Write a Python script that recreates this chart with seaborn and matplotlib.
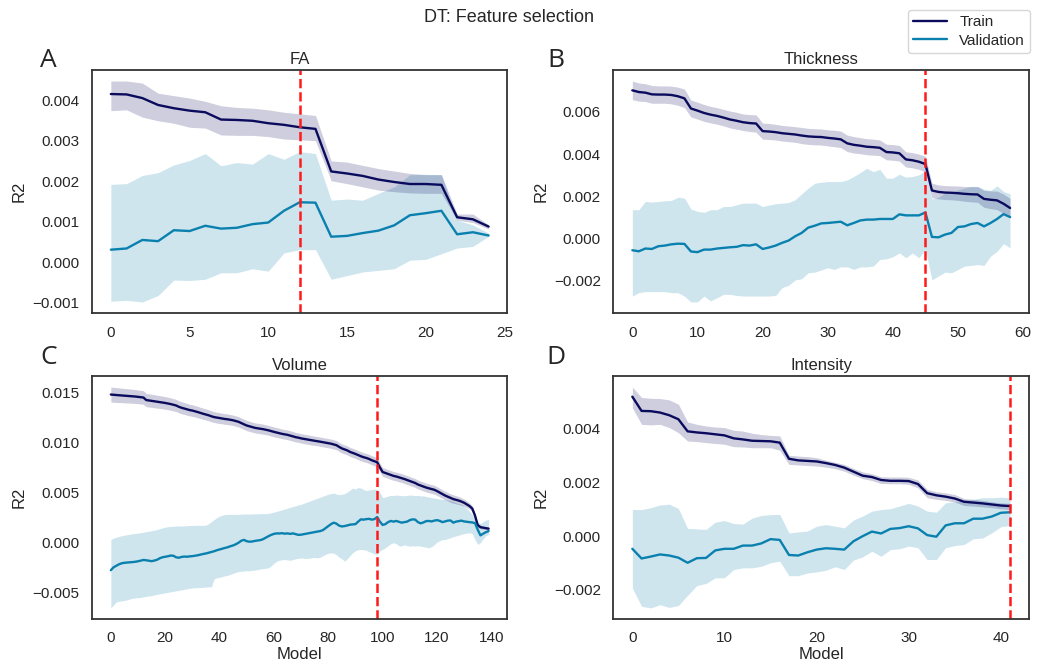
import numpy as np
import pandas as pd
import matplotlib
matplotlib.use("Agg")
import matplotlib.pyplot as plt
from matplotlib.lines import Line2D
import seaborn as sns

# R2 values below are in units of 1e-3
# ---------------- FA ----------------
fa_train = [4.15, 4.14, 4.05, 3.88, 3.80, 3.74, 3.70, 3.52, 3.51, 3.49, 3.43, 3.39, 3.33,
            3.29, 2.24, 2.19, 2.13, 2.04, 1.98, 1.93, 1.93, 1.91, 1.11, 1.06, 0.88]
fa_train_hi = [4.47, 4.47, 4.42, 4.17, 4.11, 4.05, 3.97, 3.86, 3.82, 3.80, 3.76, 3.70, 3.66,
               3.62, 2.50, 2.47, 2.39, 2.31, 2.25, 2.19, 2.16, 2.16, 1.19, 1.19, 0.92]
fa_train_lo = [3.74, 3.76, 3.58, 3.49, 3.43, 3.33, 3.31, 3.14, 3.13, 3.13, 3.10, 3.04, 3.02,
               3.00, 2.01, 1.94, 1.86, 1.78, 1.74, 1.71, 1.70, 1.70, 1.04, 0.98, 0.82]
fa_val = [0.31, 0.34, 0.55, 0.52, 0.79, 0.77, 0.90, 0.83, 0.85, 0.94, 0.98, 1.27, 1.48,
          1.47, 0.63, 0.65, 0.72, 0.78, 0.91, 1.16, 1.21, 1.27, 0.69, 0.74, 0.66]
fa_val_hi = [1.92, 1.94, 2.14, 2.21, 2.40, 2.51, 2.68, 2.38, 2.46, 2.42, 2.68, 2.54, 2.73,
             2.68, 1.53, 1.56, 1.53, 1.70, 1.86, 2.16, 2.17, 2.16, 1.04, 0.92, 0.72]
fa_val_lo = [-0.96, -0.94, -0.98, -0.82, -0.44, -0.45, -0.42, -0.26, -0.26, -0.16, -0.22, 0.23, 0.31,
             0.31, -0.42, -0.33, -0.24, -0.20, -0.16, 0.05, 0.07, 0.21, 0.35, 0.39, 0.64]

# ---------------- Thickness ----------------
th_train = [7.02, 6.94, 6.91, 6.83, 6.82, 6.82, 6.80, 6.74, 6.64, 6.16,
            6.06, 5.95, 5.87, 5.81, 5.73, 5.64, 5.58, 5.51, 5.47, 5.45,
            5.09, 5.07, 5.04, 4.99, 4.96, 4.93, 4.88, 4.84, 4.82, 4.81,
            4.77, 4.74, 4.70, 4.51, 4.44, 4.40, 4.35, 4.33, 4.30, 4.10,
            4.08, 4.04, 3.75, 3.71, 3.64, 3.53, 2.28, 2.21, 2.18, 2.17,
            2.15, 2.12, 2.10, 2.09, 1.88, 1.84, 1.81, 1.65, 1.45]
th_train_sd = [0.44, 0.43, 0.42, 0.42, 0.41, 0.41, 0.42, 0.43, 0.44,
               0.40, 0.40, 0.40, 0.39, 0.39, 0.39, 0.40, 0.40, 0.39, 0.40, 0.41,
               0.38, 0.38, 0.37, 0.37, 0.37, 0.37, 0.38, 0.38, 0.38, 0.38, 0.38, 0.39, 0.39,
               0.39, 0.39, 0.38, 0.38, 0.38, 0.37, 0.37, 0.37, 0.37, 0.36, 0.36, 0.36, 0.37,
               0.34, 0.33, 0.33, 0.33, 0.34, 0.35, 0.36, 0.37, 0.40, 0.42, 0.44, 0.46, 0.45]
th_val = [-0.55, -0.60, -0.47, -0.49, -0.36, -0.33, -0.27, -0.24, -0.25, -0.61,
          -0.64, -0.52, -0.52, -0.47, -0.44, -0.41, -0.39, -0.31, -0.33, -0.27,
          -0.49, -0.42, -0.33, -0.20, -0.09, 0.11, 0.27, 0.52, 0.61, 0.72,
          0.74, 0.77, 0.80, 0.63, 0.74, 0.86, 0.90, 0.90, 0.93, 0.93,
          0.93, 1.15, 1.10, 1.10, 1.10, 1.24, 0.08, 0.06, 0.19, 0.27,
          0.55, 0.58, 0.69, 0.74, 0.58, 0.74, 0.93, 1.16, 1.02]
th_val_hi = [1.37, 1.37, 1.76, 1.73, 1.76, 1.79, 1.81, 1.96, 1.92, 1.40,
             1.29, 1.24, 1.37, 1.37, 1.52, 1.52, 1.60, 1.68, 1.68, 1.68,
             1.52, 1.59, 1.65, 1.68, 1.71, 1.84, 2.12, 2.39, 2.62, 2.67,
             2.70, 2.70, 2.70, 2.78, 2.94, 3.13, 3.33, 3.17, 3.28, 2.86,
             2.86, 3.05, 2.91, 2.94, 3.02, 3.22, 1.87, 1.96, 2.15, 2.18,
             2.31, 2.39, 2.47, 2.47, 2.34, 2.28, 2.50, 2.23, 2.12]
th_val_lo = [-2.72, -2.56, -2.51, -2.51, -2.51, -2.51, -2.56, -2.56, -2.72, -3.00,
             -3.00, -2.72, -2.95, -2.80, -2.64, -2.64, -2.69, -2.72, -2.72, -2.72,
             -2.72, -2.72, -2.69, -2.32, -2.21, -1.96, -1.90, -1.62, -1.59, -1.49,
             -1.38, -1.46, -1.34, -1.34, -1.46, -1.34, -1.34, -1.30, -0.99, -0.96,
             -0.86, -0.68, -0.91, -0.68, -0.91, -0.52, -1.96, -1.77, -1.59, -1.62,
             -1.46, -1.30, -1.27, -1.23, -1.27, -0.83, -0.60, -0.24, -0.44]

# ---------------- Volume ----------------
vo_train = [14.77, 14.74, 14.72, 14.70, 14.68, 14.66, 14.64, 14.62, 14.60, 14.57, 14.54, 14.51, 14.47,
            14.22, 14.18, 14.15, 14.10, 14.06, 14.02, 13.98, 13.93,
            13.88, 13.82, 13.75, 13.68, 13.55, 13.45, 13.38, 13.30, 13.22, 13.17,
            13.10, 13.02, 12.93, 12.85, 12.78, 12.70, 12.60, 12.52, 12.47, 12.42,
            12.38, 12.33, 12.30, 12.25, 12.20, 12.12, 12.05, 11.92, 11.80, 11.68,
            11.60, 11.52, 11.45, 11.40, 11.36, 11.32, 11.26, 11.20, 11.12, 11.05,
            10.98, 10.92, 10.85, 10.80, 10.75, 10.68, 10.60, 10.52, 10.47, 10.40,
            10.35, 10.30, 10.25, 10.20, 10.16, 10.12, 10.07, 10.02, 9.97, 9.92,
            9.87, 9.80, 9.72, 9.55, 9.40, 9.30, 9.20, 9.05, 8.95, 8.85,
            8.73, 8.62, 8.52, 8.45, 8.35, 8.22, 8.12, 8.02,
            7.50, 7.05, 6.95, 6.85, 6.75, 6.66, 6.60, 6.52, 6.45, 6.35, 6.25, 6.15,
            6.05, 5.95, 5.80, 5.70, 5.60, 5.50, 5.42, 5.35, 5.28, 5.15,
            5.00, 4.85, 4.70, 4.58, 4.45, 4.35, 4.28, 4.20, 4.10, 3.98,
            3.82, 3.65, 3.40, 2.70, 1.75, 1.55, 1.50, 1.45, 1.40]
vo_train_sd = [0.75, 0.74, 0.74, 0.73, 0.72, 0.72, 0.71, 0.70, 0.70, 0.69, 0.68, 0.68, 0.67,
               0.66, 0.66, 0.65, 0.65, 0.64, 0.64, 0.63, 0.63,
               0.62, 0.62, 0.61, 0.61, 0.60, 0.60, 0.59, 0.59, 0.58, 0.58,
               0.57, 0.57, 0.56, 0.56, 0.55, 0.55, 0.55, 0.54, 0.54, 0.54,
               0.53, 0.53, 0.53, 0.52, 0.52, 0.52, 0.52, 0.51, 0.51, 0.51,
               0.51, 0.50, 0.50, 0.50, 0.50, 0.50, 0.49, 0.49, 0.49, 0.49,
               0.49, 0.48, 0.48, 0.48, 0.48, 0.48, 0.48, 0.47, 0.47, 0.47,
               0.47, 0.47, 0.47, 0.47, 0.46, 0.46, 0.46, 0.46, 0.46, 0.46,
               0.46, 0.46, 0.45, 0.45, 0.45, 0.45, 0.45, 0.45, 0.45, 0.45,
               0.45, 0.45, 0.45, 0.45, 0.45, 0.45, 0.45, 0.45,
               0.44, 0.44, 0.44, 0.44, 0.44, 0.44, 0.44, 0.44, 0.44, 0.44, 0.44, 0.44,
               0.44, 0.44, 0.44, 0.44, 0.44, 0.44, 0.44, 0.44, 0.44, 0.44,
               0.43, 0.43, 0.43, 0.42, 0.42, 0.42, 0.41, 0.40, 0.38, 0.36,
               0.33, 0.30, 0.27, 0.24, 0.20, 0.17, 0.15, 0.14, 0.14]
vo_val = [-2.74, -2.45, -2.30, -2.15, -2.05, -2.00, -1.98, -1.95, -1.93, -1.90, -1.85, -1.78, -1.72,
          -1.75, -1.80, -1.84, -1.78, -1.70, -1.55, -1.45, -1.40,
          -1.35, -1.28, -1.30, -1.45, -1.50, -1.42, -1.38, -1.40, -1.36, -1.34,
          -1.30, -1.25, -1.18, -1.12, -1.07, -1.00, -0.92, -0.85, -0.75, -0.67,
          -0.60, -0.52, -0.45, -0.35, -0.27, -0.15, 0.00, 0.20, 0.28, 0.15,
          0.10, 0.12, 0.18, 0.22, 0.26, 0.35, 0.50, 0.65, 0.78, 0.88,
          0.93, 0.92, 0.95, 0.90, 0.93, 0.88, 0.93, 0.85, 0.78, 0.80,
          0.85, 0.90, 0.95, 1.00, 1.05, 1.10, 1.16, 1.25, 1.45, 1.65,
          1.85, 2.00, 1.90, 1.70, 1.62, 1.66, 1.72, 1.80, 1.83, 1.85,
          2.10, 2.33, 2.30, 2.35, 2.38, 2.30, 2.35, 2.56,
          2.10, 1.77, 1.85, 2.05, 2.17, 2.10, 2.17, 2.08, 2.00, 2.05, 2.10, 2.25,
          2.33, 2.30, 2.05, 1.93, 2.02, 2.15, 2.17, 2.12, 2.20, 2.25,
          2.18, 2.05, 2.12, 2.20, 2.22, 2.00, 2.10, 2.15, 2.20, 2.12,
          2.08, 2.05, 2.02, 1.95, 1.30, 0.73, 0.90, 1.05, 1.16]
vo_val_hi = [0.33, 0.45, 0.55, 0.62, 0.70, 0.75, 0.80, 0.85, 0.90, 0.92, 0.97, 1.00, 1.05,
             1.10, 1.15, 1.20, 1.25, 1.32, 1.40, 1.48, 1.55,
             1.60, 1.62, 1.64, 1.66, 1.68, 1.66, 1.68, 1.70, 1.72, 1.72,
             1.73, 1.74, 1.73, 1.73, 1.75, 1.90, 2.10, 2.30, 2.50, 2.65,
             2.75, 2.80, 2.82, 2.83, 2.83, 2.83, 2.82, 2.85, 2.85, 2.86,
             2.86, 2.87, 2.88, 2.88, 2.89, 2.90, 2.90, 2.92, 2.98, 3.05,
             3.12, 3.20, 3.28, 3.36, 3.44, 3.52, 3.60, 3.68, 3.76, 3.83,
             3.93, 4.03, 4.13, 4.23, 4.33, 4.43, 4.53, 4.63, 4.73, 4.83,
             4.90, 4.95, 4.85, 4.80, 4.82, 4.90, 5.05, 5.25, 5.45, 5.35,
             5.50, 5.45, 5.30, 5.20, 5.25, 5.30, 5.35, 5.30,
             5.00, 4.50, 4.55, 4.65, 4.73, 4.70, 4.75, 4.72, 4.70, 4.68, 4.72, 4.75,
             4.73, 4.70, 4.72, 4.65, 4.68, 4.60, 4.55, 4.50, 4.45, 4.40,
             4.35, 4.33, 4.30, 4.25, 4.20, 4.10, 4.00, 3.90, 3.83, 3.60,
             3.40, 3.10, 2.80, 2.40, 2.00, 1.90, 2.10, 2.25, 2.33]
vo_val_lo = [-6.50, -6.20, -5.90, -5.84, -5.80, -5.75, -5.70, -5.60, -5.55, -5.50, -5.48, -5.45, -5.40,
             -5.35, -5.30, -5.28, -5.20, -5.15, -5.10, -5.05, -5.00,
             -4.95, -4.90, -4.85, -4.80, -4.75, -4.70, -4.65, -4.60, -4.55, -4.50,
             -4.50, -4.48, -4.45, -4.45, -4.42, -4.40, -4.40, -3.60, -3.50, -3.45,
             -3.38, -3.30, -3.25, -3.15, -3.05, -2.95, -2.88, -2.84, -2.82, -2.80,
             -2.80, -2.75, -2.72, -2.68, -2.62, -2.58, -2.55, -2.50, -2.30, -2.05,
             -1.85, -1.75, -1.70, -1.67, -1.72, -1.75, -1.68, -1.60, -1.55, -1.52,
             -1.55, -1.58, -1.55, -1.50, -1.48, -1.50, -1.45, -1.30, -1.15, -1.05,
             -1.00, -1.05, -1.20, -1.45, -1.60, -1.84, -1.60, -1.30, -1.00, -0.80,
             -0.70, -0.67, -0.70, -0.75, -0.90, -1.00, -1.10, -1.17,
             -0.80, -0.67, -0.50, -0.30, -0.10, 0.00, -0.10, -0.30, -0.33, -0.20, -0.30, -0.35,
             -0.30, -0.33, -0.30, -0.35, -0.40, -0.45, -0.50, -0.40, -0.20, 0.05,
             0.20, 0.30, 0.33, 0.40, 0.50, 0.60, 0.67, 0.75, 0.85, 0.90,
             0.95, 1.00, 0.90, 0.30, -0.17, 0.00, 0.40, 0.70, 0.83]

# ---------------- Intensity ----------------
in_train = [5.19, 4.66, 4.65, 4.60, 4.50, 4.35, 3.90, 3.86, 3.83, 3.79, 3.75,
            3.64, 3.60, 3.55, 3.54, 3.53, 3.48, 2.88, 2.82, 2.80, 2.78,
            2.72, 2.65, 2.55, 2.40, 2.25, 2.20, 2.09, 2.06, 2.06, 2.05,
            1.94, 1.60, 1.52, 1.47, 1.40, 1.28, 1.25, 1.22, 1.18, 1.14, 1.12]
in_train_hi = [5.55, 5.16, 5.13, 5.12, 5.07, 4.91, 4.25, 4.16, 4.10, 4.06, 4.04,
               3.94, 3.91, 3.83, 3.78, 3.75, 3.73, 3.01, 2.98, 2.96, 2.92,
               2.83, 2.75, 2.67, 2.52, 2.39, 2.32, 2.21, 2.20, 2.20, 2.19,
               2.09, 1.74, 1.65, 1.61, 1.55, 1.40, 1.37, 1.33, 1.28, 1.24, 1.22]
in_train_lo = [4.78, 4.16, 4.14, 4.16, 4.04, 3.85, 3.54, 3.52, 3.48, 3.45, 3.42,
               3.33, 3.32, 3.29, 3.29, 3.29, 3.20, 2.67, 2.65, 2.63, 2.61,
               2.57, 2.51, 2.42, 2.27, 2.14, 2.07, 1.96, 1.95, 1.95, 1.93,
               1.80, 1.43, 1.37, 1.33, 1.27, 1.14, 1.12, 1.09, 1.06, 1.02, 0.99]
in_val = [-0.47, -0.83, -0.76, -0.68, -0.72, -0.80, -0.99, -0.82, -0.81, -0.53, -0.47,
          -0.47, -0.35, -0.35, -0.27, -0.11, -0.14, -0.70, -0.72, -0.60, -0.50,
          -0.45, -0.47, -0.50, -0.19, 0.00, 0.17, 0.10, 0.27, 0.30, 0.37,
          0.29, 0.04, -0.02, 0.40, 0.48, 0.48, 0.65, 0.65, 0.73, 0.87, 0.89]
in_val_hi = [0.99, 0.99, 1.06, 1.16, 1.19, 1.03, 0.29, 0.27, 0.25, 0.52, 0.58,
             0.47, 0.45, 0.67, 0.77, 0.80, 0.81, 0.12, 0.16, 0.19, 0.37,
             0.43, 0.37, 0.31, 0.60, 0.75, 0.93, 0.99, 1.02, 1.12, 1.22,
             1.12, 0.93, 0.89, 1.24, 1.28, 1.34, 1.37, 1.43, 1.43, 1.45, 1.43]
in_val_lo = [-1.93, -2.61, -2.67, -2.55, -2.65, -2.58, -2.20, -1.84, -1.76, -1.55, -1.55,
             -1.24, -1.18, -1.18, -1.12, -0.99, -0.93, -1.47, -1.47, -1.37, -1.33,
             -1.27, -1.14, -1.24, -0.89, -0.77, -0.56, -0.75, -0.50, -0.47, -0.37,
             -0.43, -0.87, -0.87, -0.43, -0.35, -0.31, -0.10, -0.07, 0.12, 0.35, 0.40]

# selected model per feature set
best_model = {"FA": 12, "Thickness": 45, "Volume": 98, "Intensity": 41}

TRAIN_C = "#0b0b5e"
VAL_C = "#0a80ae"
SCALE = 1e-3


def band(mean, sd):
    m = np.asarray(mean)
    s = np.asarray(sd)
    return list(m - s), list(m + s)


th_train_lo, th_train_hi = band(th_train, th_train_sd)
vo_train_lo, vo_train_hi = band(vo_train, vo_train_sd)

panels = [
    ("A", "FA", fa_train, fa_train_lo, fa_train_hi, fa_val, fa_val_lo, fa_val_hi),
    ("B", "Thickness", th_train, th_train_lo, th_train_hi, th_val, th_val_lo, th_val_hi),
    ("C", "Volume", vo_train, vo_train_lo, vo_train_hi, vo_val, vo_val_lo, vo_val_hi),
    ("D", "Intensity", in_train, in_train_lo, in_train_hi, in_val, in_val_lo, in_val_hi),
]

sns.set_theme(style="white", context="notebook")
plt.rcParams["font.family"] = ["Liberation Sans", "DejaVu Sans"]
plt.rcParams["axes.unicode_minus"] = True

fig, axes = plt.subplots(2, 2, figsize=(10.38, 6.68), dpi=100)
fig.subplots_adjust(left=0.0886, right=0.9913, top=0.8952, bottom=0.0734,
                    wspace=0.255, hspace=0.259)

letter_pos = {"A": (0.047, 0.909), "B": (0.536, 0.909),
              "C": (0.047, 0.465), "D": (0.536, 0.465)}

for ax, (letter, name, tr, tr_lo, tr_hi, va, va_lo, va_hi) in zip(axes.flat, panels):
    n = len(tr)
    models = np.arange(n)
    df = pd.DataFrame({
        "Model": np.concatenate([models, models]),
        "R2": np.concatenate([np.asarray(tr), np.asarray(va)]) * SCALE,
        "Set": ["Train"] * n + ["Validation"] * n,
    })
    ax.fill_between(models, np.asarray(va_lo) * SCALE, np.asarray(va_hi) * SCALE,
                    color=VAL_C, alpha=0.2, linewidth=0)
    ax.fill_between(models, np.asarray(tr_lo) * SCALE, np.asarray(tr_hi) * SCALE,
                    color=TRAIN_C, alpha=0.2, linewidth=0)
    sns.lineplot(data=df, x="Model", y="R2", hue="Set",
                 palette={"Train": TRAIN_C, "Validation": VAL_C},
                 linewidth=1.7, legend=False, ax=ax, errorbar=None)
    ax.axvline(best_model[name], color="#ff1a1a", linestyle="--", linewidth=1.8)
    ax.set_title(name, fontsize=12, pad=4)
    ax.set_ylabel("R2", fontsize=12)
    ax.set_xlabel("Model" if letter in ("C", "D") else "", fontsize=12, labelpad=1)
    ax.tick_params(labelsize=11, pad=3)
    for sp in ax.spines.values():
        sp.set_color("#333333")
        sp.set_linewidth(1.3)
    fig.text(*letter_pos[letter], letter, fontsize=19, family="Open Sans",
             ha="center", va="center")

fig.suptitle("DT: Feature selection", x=0.49, y=0.974, va="center", fontsize=13)

handles = [Line2D([0], [0], color=TRAIN_C, lw=1.7),
           Line2D([0], [0], color=VAL_C, lw=1.7)]
fig.legend(handles, ["Train", "Validation"], loc="upper right",
           bbox_to_anchor=(1.0, 0.997), fontsize=11, frameon=True,
           handlelength=2.2, borderpad=0.35, labelspacing=0.3)

fig.savefig("out.png", dpi=100)
